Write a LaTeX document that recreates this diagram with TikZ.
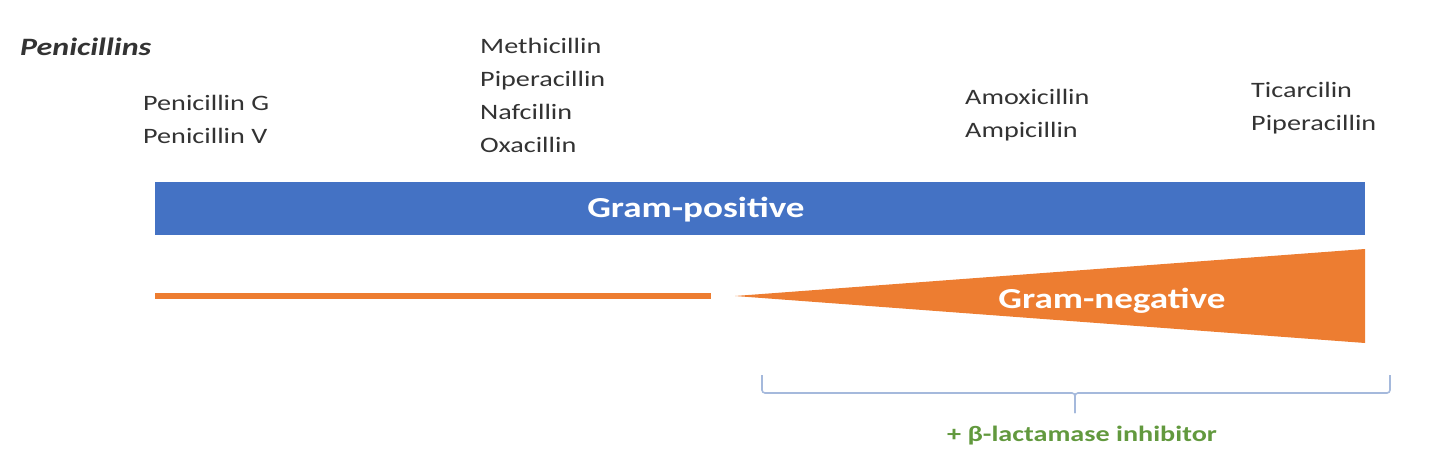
\documentclass[tikz,border=0pt]{standalone}
\usepackage{fontspec}
\setmainfont{Carlito}[FakeStretch=1.28]
\usetikzlibrary{positioning}
\definecolor{gpblue}{HTML}{4472C4}
\definecolor{gnorange}{HTML}{ED7D31}
\definecolor{bracecol}{HTML}{A5B9DC}
\definecolor{inhgreen}{HTML}{62993E}
\definecolor{labgray}{HTML}{333333}

\begin{document}
\begin{tikzpicture}[x=1pt, y=-1pt,
    drug/.style  = {anchor=north west, inner sep=0pt, align=left,
                    text=labgray, font=\fontsize{22}{33}\selectfont},
    band/.style  = {text=white, font=\bfseries\fontsize{29}{34}\selectfont},
    brace/.style = {draw=bracecol, line width=1.6pt, rounded corners=3pt}
                    ]
\useasboundingbox (0,0) rectangle (1440,460);
% title and drug groups
\node (title) [anchor=base west, inner sep=0pt, text=labgray,
               font=\bfseries\itshape\fontsize{25}{30}\selectfont] at (20,56) {Penicillins};
\node (grpG) [drug] at (143,95)  {Penicillin G\\ Penicillin V};
\node (grpM) [drug] at (480,38)  {Methicillin\\ Piperacillin\\ Nafcillin\\ Oxacillin};
\node (grpA) [drug] at (965,89)  {Amoxicillin\\ Ampicillin};
\node (grpT) [drug] at (1251,82) {Ticarcilin\\ Piperacillin};
% Gram-positive bar
\fill[gpblue] (155,182) rectangle (1365,235);
\node (gpos) [band] at (696,210) {Gram-positive};
% Gram-negative line and wedge
\coordinate (ln1) at (155,296);
\coordinate (ln2) at (711,296);
\draw[gnorange, line width=6pt] (ln1) -- (ln2);
\fill[gnorange] (735,296) -- (1365,249) -- (1365,343) -- cycle;
\node (gneg) [band] at (1112,301) {Gram-negative};
% brace
\coordinate (bl) at (762,375);
\coordinate (br) at (1390,375);
\coordinate (bt) at (1075,413);
\draw[brace] (bl) -- (762,393) -- (1075,393) -- (bt);
\draw[brace] (bt) -- (1075,393) -- (1390,393) -- (br);
\node (inhib) [below=10pt of bt, xshift=7pt, text=inhgreen,
               font=\bfseries\fontsize{22}{26}\selectfont] {+ β-lactamase inhibitor};
\end{tikzpicture}
\end{document}
